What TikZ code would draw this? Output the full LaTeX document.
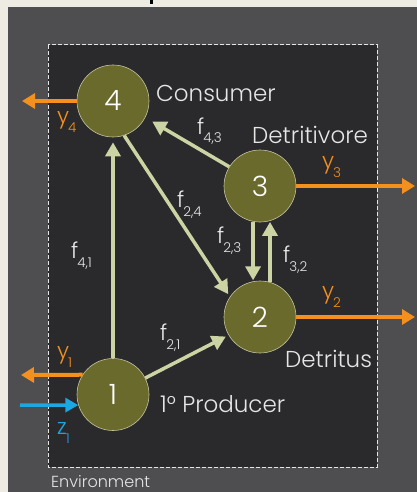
\documentclass[tikz,border=0pt]{standalone}
\usepackage{fontspec}
\setmainfont{Poppins}[UprightFont={* Light}]
\usetikzlibrary{arrows.meta}
\definecolor{beige}{HTML}{EEEBE3}
\definecolor{panel}{HTML}{4E4E50}
\definecolor{inner}{HTML}{2A292C}
\definecolor{olive}{HTML}{6B6A2D}
\definecolor{rim}{HTML}{C2C59C}
\definecolor{flowgreen}{HTML}{CBD4A2}
\definecolor{outorange}{HTML}{F4901E}
\definecolor{inblue}{HTML}{1BA7E1}
\definecolor{labgray}{HTML}{E6E6E6}
\newcommand{\flowlab}[2]{#1\kern-1pt\raisebox{-9pt}{\fontsize{13.5}{13.5}\selectfont #2}}
\begin{document}
\begin{tikzpicture}[x=1pt,y=-1pt,
  comp/.style={circle, fill=olive, draw=rim, line width=0.6pt, minimum size=72pt, inner sep=0pt,
    text=white, font=\fontsize{28}{28}\selectfont},
  flow/.style={draw=flowgreen, line width=3.5pt, -{Triangle[length=14pt,width=15pt]}},
  outflow/.style={draw=outorange, line width=4pt, -{Triangle[length=13pt,width=15pt]}},
  inflow/.style={draw=inblue, line width=3.5pt, -{Triangle[length=13pt,width=14pt]}},
  complab/.style={text=labgray, anchor=base west, inner sep=0pt, font=\fontsize{23}{23}\selectfont},
  flab/.style={text=labgray, anchor=base west, inner sep=0pt, font=\fontsize{22}{22}\selectfont},
  olab/.style={text=outorange, anchor=base west, inner sep=0pt, font=\fontsize{22}{22}\selectfont},
  blab/.style={text=inblue, anchor=base west, inner sep=0pt, font=\fontsize{22}{22}\selectfont}
]
\useasboundingbox (0,0) rectangle (417,492);
\fill[beige] (0,0) rectangle (417,492);
\fill[panel] (8,7) rectangle (417,492);
\fill[black] (150,0) rectangle (153,4);
\fill[inner] (48,45) rectangle (377,467);
\draw[draw=white!80!gray, line width=1pt, dash pattern=on 4pt off 2pt] (48,45) rectangle (377,467);

\node[comp] (n4) at (113,101) {4};
\node[comp] (n3) at (260,186) {3};
\node[comp] (n2) at (260,317) {2};
\node[comp] (n1) at (113,394.5) {1};

\coordinate (y4end) at (22,101);
\coordinate (y3end) at (415,186);
\coordinate (y2end) at (415,317);
\coordinate (y1end) at (21,375);
\coordinate (z1start) at (20,405);

% flows
\draw[flow, shorten >=5pt] (n1) -- (n4);
\draw[flow, shorten >=3pt] (n4.288) -- (n2.146);
\draw[flow, shorten >=8pt] (n3.148) -- (n4.333);
\draw[flow, shorten >=1pt] (n3.259) -- (n2.101);
\draw[flow, shorten >=1pt] (n2.74) -- (n3.286);
\draw[flow, shorten >=3pt] (n1.27) -- (n2.210);

% outputs / input
\draw[outflow] (n4.west) -- (y4end);
\draw[outflow] (n3.east) -- (y3end);
\draw[outflow] (n2.east) -- (y2end);
\draw[outflow] (n1.147) -- (y1end);
\draw[inflow, shorten >=0pt] (z1start) -- (n1.197);

% names
\node[complab] (lcons) at (156,102) {Consumer};
\node[complab] (ldetv) at (252,143) {Detritivore};
\node[complab] (ldets) at (285,367) {Detritus};
\node[complab] (lprod) at (160,412) {1° Producer};
\node[text=labgray, anchor=base west, inner sep=0pt, font=\fontsize{16}{16}\selectfont] (lenv) at (51,487) {Environment};

% flow labels
\node[flab] (f43) at (197,134) {\flowlab{f}{4,3}};
\node[flab] (f24) at (177,207) {\flowlab{f}{2,4}};
\node[flab] (f41) at (71,258) {\flowlab{f}{4,1}};
\node[flab] (f21) at (160,340) {\flowlab{f}{2,1}};
\node[flab] (f23) at (217,243) {\flowlab{f}{2,3}};
\node[flab] (f32) at (283,262) {\flowlab{f}{3,2}};

% y / z labels
\node[olab] (ly4) at (57,124) {\flowlab{y}{4}};
\node[olab] (ly3) at (322,168) {\flowlab{y}{3}};
\node[olab] (ly2) at (322,298) {\flowlab{y}{2}};
\node[olab] (ly1) at (57,358) {\flowlab{y}{1}};
\node[blab] (lz1) at (57,434) {\flowlab{z}{1}};
\end{tikzpicture}
\end{document}
